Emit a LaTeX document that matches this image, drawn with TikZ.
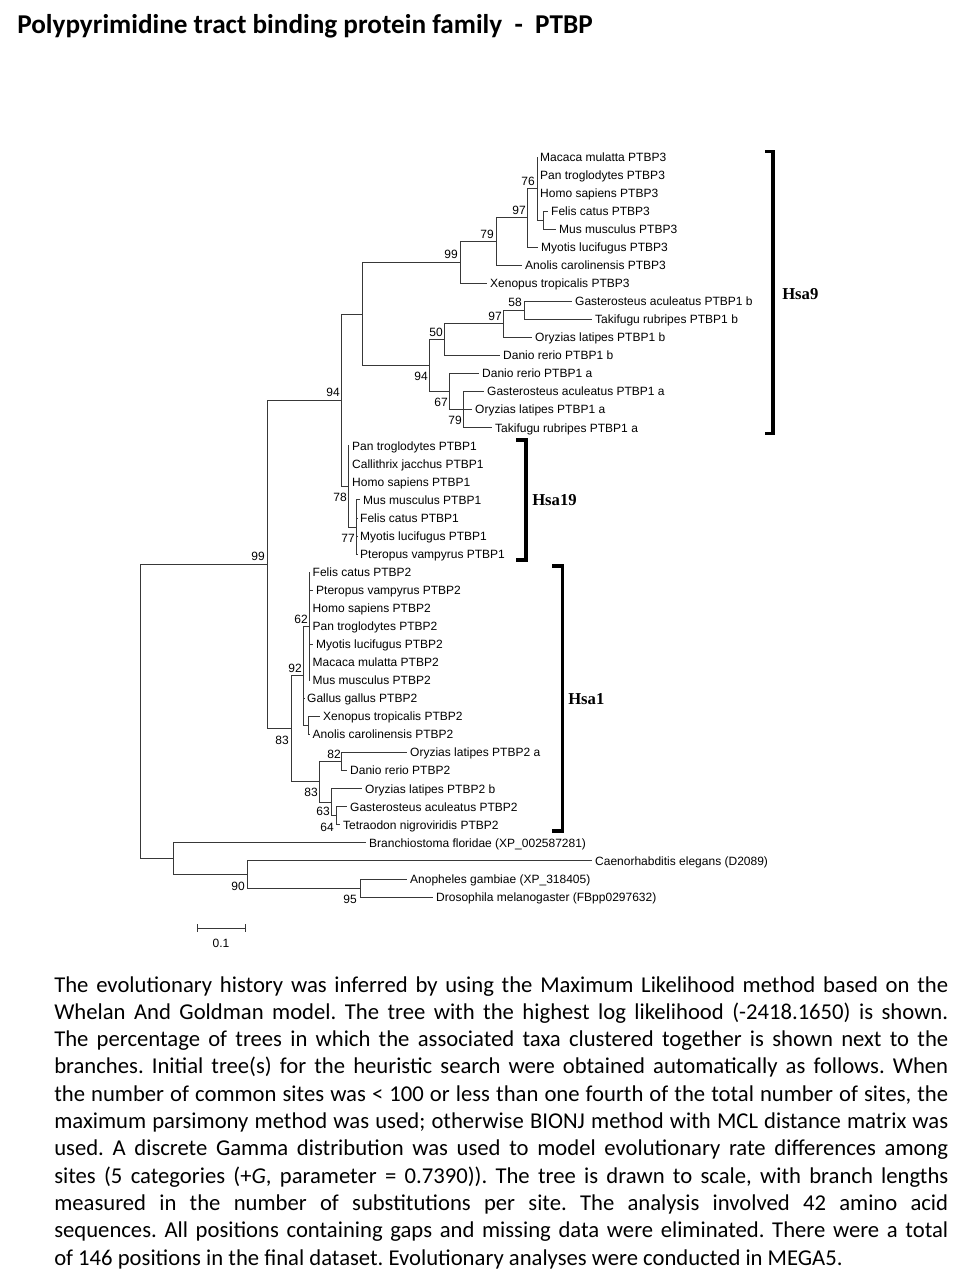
\documentclass[tikz,border=0pt]{standalone}
\usepackage{fontspec}
\setmainfont{Carlito}
\newfontfamily\treefont{Liberation Sans}
\newfontfamily\hsafont{Liberation Serif}
\begin{document}
\frenchspacing
\begin{tikzpicture}[x=0.75pt,y=-0.75pt,
  br/.style={draw=black!78, line width=0.75pt},
  leaf/.style={font=\treefont\fontsize{9}{10}\selectfont, anchor=west, inner xsep=2.2pt, inner ysep=0pt, text height=6.4pt, text depth=0pt},
  bs/.style={font=\treefont\fontsize{9}{10}\selectfont, anchor=east, inner sep=0pt, text height=6.4pt, text depth=0pt},
  brk/.style={draw=black, line width=2.6pt},
  hsa/.style={font=\hsafont\bfseries\fontsize{12.5}{14}\selectfont, anchor=base west, inner sep=0pt},
  captxt/.style={font=\fontsize{17}{20}\selectfont, anchor=base west, inner sep=0pt}]
\fill[white] (0,0) rectangle (964,1288);
\useasboundingbox (0,0) rectangle (964,1288);

% title
\node[font=\bfseries\fontsize{20.4}{24}\selectfont, anchor=base west, inner sep=0pt] (title) at (17,34) {Polypyrimidine tract binding protein family~~-~~PTBP};

% internal nodes
\coordinate (nFM) at (543,220.18);
\coordinate (n76) at (537,188.59);
\coordinate (n97a) at (527,217.92);
\coordinate (n79a) at (496,241.61);
\coordinate (n99a) at (460,262.48);
\coordinate (n58) at (524,310.43);
\coordinate (n97b) at (503.3,323.96);
\coordinate (n50) at (444,339.76);
\coordinate (n79b) at (463.3,409.7);
\coordinate (n67) at (449.5,391.65);
\coordinate (n94i) at (429.3,365.7);
\coordinate (nA) at (362,314.09);
\coordinate (n77) at (356.7,527.03);
\coordinate (n78) at (348.3,486.41);
\coordinate (n94o) at (341,400.25);
\coordinate (n62) at (309.3,626.3);
\coordinate (nXA) at (308.3,725.58);
\coordinate (n92) at (303.5,675.94);
\coordinate (n82) at (341.7,761.68);
\coordinate (n64) at (336,815.83);
\coordinate (n63) at (331.7,802.29);
\coordinate (n83l) at (319.3,781.98);
\coordinate (n83u) at (291,728.96);
\coordinate (n99) at (267,564.6);
\coordinate (n95) at (360.5,888.03);
\coordinate (n90) at (247,874.49);
\coordinate (nB) at (173,858.7);
\coordinate (root) at (140.5,711.65);

% leaf tips
\coordinate (t1) at (537,157);
\coordinate (t2) at (537,175.05);
\coordinate (t3) at (537,193.1);
\coordinate (t4) at (548,211.15);
\coordinate (t5) at (556,229.2);
\coordinate (t6) at (538,247.25);
\coordinate (t7) at (522,265.3);
\coordinate (t8) at (487,283.35);
\coordinate (t9) at (572,301.4);
\coordinate (t10) at (592,319.45);
\coordinate (t11) at (532,337.5);
\coordinate (t12) at (500,355.55);
\coordinate (t13) at (479,373.6);
\coordinate (t14) at (484,391.65);
\coordinate (t15) at (472,409.7);
\coordinate (t16) at (492,427.75);
\coordinate (t17) at (349,445.8);
\coordinate (t18) at (349,463.85);
\coordinate (t19) at (349,481.9);
\coordinate (t20) at (360,499.95);
\coordinate (t21) at (357,518);
\coordinate (t22) at (357,536.05);
\coordinate (t23) at (357,554.1);
\coordinate (t24) at (309.5,572.15);
\coordinate (t25) at (313,590.2);
\coordinate (t26) at (309.5,608.25);
\coordinate (t27) at (309.5,626.3);
\coordinate (t28) at (313,644.35);
\coordinate (t29) at (309.5,662.4);
\coordinate (t30) at (309.5,680.45);
\coordinate (t31) at (304,698.5);
\coordinate (t32) at (320,716.55);
\coordinate (t33) at (309.5,734.6);
\coordinate (t34) at (407,752.65);
\coordinate (t35) at (347,770.7);
\coordinate (t36) at (362,788.75);
\coordinate (t37) at (347,806.8);
\coordinate (t38) at (340,824.85);
\coordinate (t39) at (366,842.9);
\coordinate (t40) at (592,860.95);
\coordinate (t41) at (407,879);
\coordinate (t42) at (433,897.05);

% branches
\draw[br] (n76) |- (t1); \draw[br] (n76) |- (t2); \draw[br] (n76) |- (t3); \draw[br] (n76) |- (nFM);
\draw[br] (nFM) |- (t4); \draw[br] (nFM) |- (t5);
\draw[br] (n97a) |- (n76); \draw[br] (n97a) |- (t6);
\draw[br] (n79a) |- (n97a); \draw[br] (n79a) |- (t7);
\draw[br] (n99a) |- (n79a); \draw[br] (n99a) |- (t8);
\draw[br] (n58) |- (t9); \draw[br] (n58) |- (t10);
\draw[br] (n97b) |- (n58); \draw[br] (n97b) |- (t11);
\draw[br] (n50) |- (n97b); \draw[br] (n50) |- (t12);
\draw[br] (n79b) |- (t14); \draw[br] (n79b) |- (t15); \draw[br] (n79b) |- (t16);
\draw[br] (n67) |- (t13); \draw[br] (n67) |- (n79b);
\draw[br] (n94i) |- (n50); \draw[br] (n94i) |- (n67);
\draw[br] (nA) |- (n99a); \draw[br] (nA) |- (n94i);
\draw[br] (n77) |- (t20); \draw[br] (n77) |- (t21); \draw[br] (n77) |- (t22); \draw[br] (n77) |- (t23);
\draw[br] (n78) |- (t17); \draw[br] (n78) |- (t18); \draw[br] (n78) |- (t19); \draw[br] (n78) |- (n77);
\draw[br] (n94o) |- (nA); \draw[br] (n94o) |- (n78);
\draw[br] (n62) |- (t24); \draw[br] (n62) |- (t25); \draw[br] (n62) |- (t26); \draw[br] (n62) |- (t27);
\draw[br] (n62) |- (t28); \draw[br] (n62) |- (t29); \draw[br] (n62) |- (t30);
\draw[br] (nXA) |- (t32); \draw[br] (nXA) |- (t33);
\draw[br] (n92) |- (n62); \draw[br] (n92) |- (t31); \draw[br] (n92) |- (nXA);
\draw[br] (n82) |- (t34); \draw[br] (n82) |- (t35);
\draw[br] (n64) |- (t37); \draw[br] (n64) |- (t38);
\draw[br] (n63) |- (t36); \draw[br] (n63) |- (n64);
\draw[br] (n83l) |- (n82); \draw[br] (n83l) |- (n63);
\draw[br] (n83u) |- (n92); \draw[br] (n83u) |- (n83l);
\draw[br] (n99) |- (n94o); \draw[br] (n99) |- (n83u);
\draw[br] (n95) |- (t41); \draw[br] (n95) |- (t42);
\draw[br] (n90) |- (t40); \draw[br] (n90) |- (n95);
\draw[br] (nB) |- (t39); \draw[br] (nB) |- (n90);
\draw[br] (root) |- (n99); \draw[br] (root) |- (nB);

% leaf labels
\node[leaf] (l1) at (t1) {Macaca mulatta PTBP3};
\node[leaf] (l2) at (t2) {Pan troglodytes PTBP3};
\node[leaf] (l3) at (t3) {Homo sapiens PTBP3};
\node[leaf] (l4) at (t4) {Felis catus PTBP3};
\node[leaf] (l5) at (t5) {Mus musculus PTBP3};
\node[leaf] (l6) at (t6) {Myotis lucifugus PTBP3};
\node[leaf] (l7) at (t7) {Anolis carolinensis PTBP3};
\node[leaf] (l8) at (t8) {Xenopus tropicalis PTBP3};
\node[leaf] (l9) at (t9) {Gasterosteus aculeatus PTBP1 b};
\node[leaf] (l10) at (t10) {Takifugu rubripes PTBP1 b};
\node[leaf] (l11) at (t11) {Oryzias latipes PTBP1 b};
\node[leaf] (l12) at (t12) {Danio rerio PTBP1 b};
\node[leaf] (l13) at (t13) {Danio rerio PTBP1 a};
\node[leaf] (l14) at (t14) {Gasterosteus aculeatus PTBP1 a};
\node[leaf] (l15) at (t15) {Oryzias latipes PTBP1 a};
\node[leaf] (l16) at (t16) {Takifugu rubripes PTBP1 a};
\node[leaf] (l17) at (t17) {Pan troglodytes PTBP1};
\node[leaf] (l18) at (t18) {Callithrix jacchus PTBP1};
\node[leaf] (l19) at (t19) {Homo sapiens PTBP1};
\node[leaf] (l20) at (t20) {Mus musculus PTBP1};
\node[leaf] (l21) at (t21) {Felis catus PTBP1};
\node[leaf] (l22) at (t22) {Myotis lucifugus PTBP1};
\node[leaf] (l23) at (t23) {Pteropus vampyrus PTBP1};
\node[leaf] (l24) at (t24) {Felis catus PTBP2};
\node[leaf] (l25) at (t25) {Pteropus vampyrus PTBP2};
\node[leaf] (l26) at (t26) {Homo sapiens PTBP2};
\node[leaf] (l27) at (t27) {Pan troglodytes PTBP2};
\node[leaf] (l28) at (t28) {Myotis lucifugus PTBP2};
\node[leaf] (l29) at (t29) {Macaca mulatta PTBP2};
\node[leaf] (l30) at (t30) {Mus musculus PTBP2};
\node[leaf] (l31) at (t31) {Gallus gallus PTBP2};
\node[leaf] (l32) at (t32) {Xenopus tropicalis PTBP2};
\node[leaf] (l33) at (t33) {Anolis carolinensis PTBP2};
\node[leaf] (l34) at (t34) {Oryzias latipes PTBP2 a};
\node[leaf] (l35) at (t35) {Danio rerio PTBP2};
\node[leaf] (l36) at (t36) {Oryzias latipes PTBP2 b};
\node[leaf] (l37) at (t37) {Gasterosteus aculeatus PTBP2};
\node[leaf] (l38) at (t38) {Tetraodon nigroviridis PTBP2};
\node[leaf] (l39) at (t39) {Branchiostoma floridae (XP\_002587281)};
\node[leaf] (l40) at (t40) {Caenorhabditis elegans (D2089)};
\node[leaf] (l41) at (t41) {Anopheles gambiae (XP\_318405)};
\node[leaf] (l42) at (t42) {Drosophila melanogaster (FBpp0297632)};

% bootstrap values
\node[bs] (b76) at (535,181.5) {76};
\node[bs] (b97a) at (526,210) {97};
\node[bs] (b79a) at (494,234) {79};
\node[bs] (b99a) at (458,254.5) {99};
\node[bs] (b58) at (522,302.5) {58};
\node[bs] (b97b) at (502,316.5) {97};
\node[bs] (b50) at (443,332) {50};
\node[bs] (b94i) at (428,376) {94};
\node[bs] (b67) at (448,402.5) {67};
\node[bs] (b79b) at (462,420.5) {79};
\node[bs] (b94o) at (340,392.5) {94};
\node[bs] (b78) at (347,497) {78};
\node[bs] (b77) at (355,538) {77};
\node[bs] (b99) at (265,556) {99};
\node[bs] (b62) at (308,619) {62};
\node[bs] (b92) at (302,668) {92};
\node[bs] (b83u) at (289,740.5) {83};
\node[bs] (b82) at (341,754) {82};
\node[bs] (b83l) at (318,792.5) {83};
\node[bs] (b63) at (330,811.5) {63};
\node[bs] (b64) at (334,827) {64};
\node[bs] (b90) at (245,886) {90};
\node[bs] (b95) at (357,899) {95};

% scale bar
\coordinate (sb1) at (197,928);
\coordinate (sb2) at (245,928);
\draw[br] (sb1) -- (sb2);
\draw[br] ([yshift=3pt]sb1) -- ([yshift=-3pt]sb1);
\draw[br] ([yshift=3pt]sb2) -- ([yshift=-3pt]sb2);
\node[bs, anchor=center] (sbl) at (221,943) {0.1};

% brackets
\coordinate (h9a) at (765,151.5); \coordinate (h9b) at (773,151.5);
\coordinate (h9c) at (773,433.5); \coordinate (h9d) at (765,433.5);
\draw[brk] (h9a) -- (h9b) -- (h9c) -- (h9d);
\node[hsa] (hsa9) at (782,299.5) {Hsa9};
\coordinate (h19a) at (516,440); \coordinate (h19b) at (526,440);
\coordinate (h19c) at (526,560); \coordinate (h19d) at (516,560);
\draw[brk] (h19a) -- (h19b) -- (h19c) -- (h19d);
\node[hsa] (hsa19) at (532,505) {Hsa19};
\coordinate (h1a) at (552,566); \coordinate (h1b) at (562.5,566);
\coordinate (h1c) at (562.5,831); \coordinate (h1d) at (552,831);
\draw[brk] (h1a) -- (h1b) -- (h1c) -- (h1d);
\node[hsa] (hsa1) at (568,704) {Hsa1};

% caption
\node[captxt] (c1) at (54,992) {\makebox[670.5pt][s]{The evolutionary history was inferred by using the Maximum Likelihood method based on the}};
\node[captxt] (c2) at (54,1019.3) {\makebox[670.5pt][s]{Whelan And Goldman model. The tree with the highest log likelihood (-2418.1650) is shown.}};
\node[captxt] (c3) at (54,1046.6) {\makebox[670.5pt][s]{The percentage of trees in which the associated taxa clustered together is shown next to the}};
\node[captxt] (c4) at (54,1073.9) {\makebox[670.5pt][s]{branches. Initial tree(s) for the heuristic search were obtained automatically as follows. When}};
\node[captxt] (c5) at (54,1101.2) {\makebox[670.5pt][s]{the number of common sites was < 100 or less than one fourth of the total number of sites, the}};
\node[captxt] (c6) at (54,1128.5) {\makebox[670.5pt][s]{maximum parsimony method was used; otherwise BIONJ method with MCL distance matrix was}};
\node[captxt] (c7) at (54,1155.8) {\makebox[670.5pt][s]{used. A discrete Gamma distribution was used to model evolutionary rate differences among}};
\node[captxt] (c8) at (54,1183.1) {\makebox[670.5pt][s]{sites (5 categories (+\textit{G}, parameter = 0.7390)). The tree is drawn to scale, with branch lengths}};
\node[captxt] (c9) at (54,1210.4) {\makebox[670.5pt][s]{measured in the number of substitutions per site. The analysis involved 42 amino acid}};
\node[captxt] (c10) at (54,1237.7) {\makebox[670.5pt][s]{sequences. All positions containing gaps and missing data were eliminated. There were a total}};
\node[captxt] (c11) at (54,1265) {of 146 positions in the final dataset. Evolutionary analyses were conducted in MEGA5.};
\end{tikzpicture}
\end{document}
